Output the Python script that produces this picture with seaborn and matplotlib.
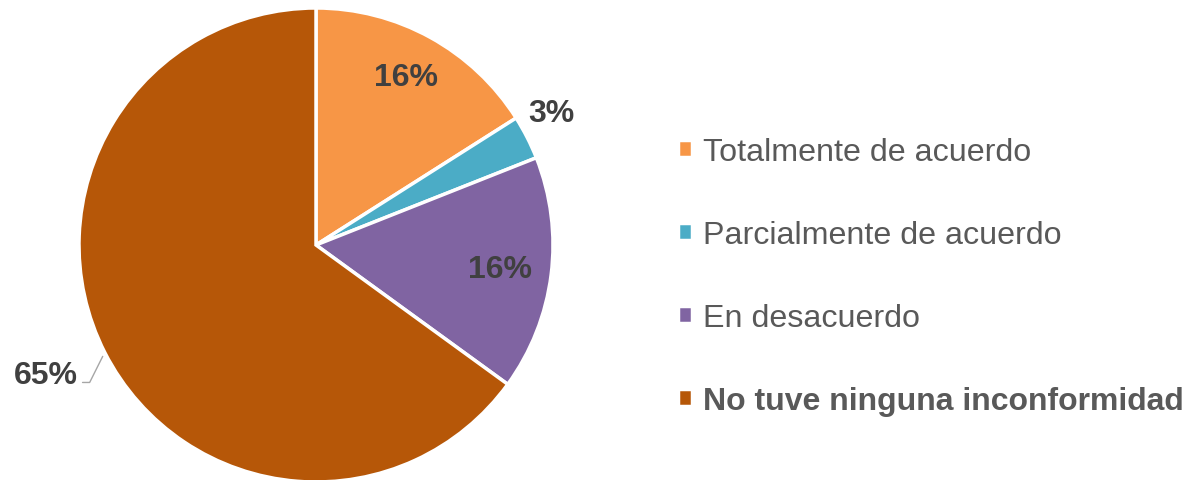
import matplotlib
matplotlib.use("Agg")
import matplotlib.pyplot as plt
import seaborn as sns

# data
categories = ["Totalmente de acuerdo", "Parcialmente de acuerdo",
              "En desacuerdo", "No tuve ninguna inconformidad"]
shares = [16, 3, 16, 65]
labels = ["16%", "3%", "16%", "65%"]
colors = ["#F79646", "#4BACC6", "#8064A2", "#B65708"]

sns.set_theme(style="white")
plt.rcParams['font.family'] = ['Liberation Sans', 'DejaVu Sans']

fig = plt.figure(figsize=(11.91, 4.81), dpi=100)
# pie centred at (316, 246) px with radius ~237 px
ax = fig.add_axes([79 / 1191, (481 - 246 - 237) / 481, 474 / 1191, 474 / 481])

palette = sns.color_palette(colors)
wedges, _ = ax.pie(shares, colors=palette, startangle=90, counterclock=False,
                   radius=1, wedgeprops=dict(edgecolor="white", linewidth=2.5))
ax.set_xlim(-1, 1)
ax.set_ylim(-1, 1)
ax.set_aspect("equal")
ax.axis("off")

# label positions in radius units
pos = [(0.38, 0.71), (0.995, 0.555), (0.775, -0.10), (-1.14, -0.55)]
for lab, (x, y) in zip(labels, pos):
    ax.text(x, y, lab, ha="center", va="center", fontsize=23, fontweight="bold",
            color="#404040", clip_on=False)

# leader line for 65%
ax.plot([-0.985, -0.955, -0.90], [-0.58, -0.58, -0.47], color="#A6A6A6",
        linewidth=1, clip_on=False)

leg = fig.legend(wedges, categories, loc="center left", bbox_to_anchor=(0.545, 0.423),
                 frameon=False, fontsize=23.2, handlelength=0.42, handleheight=0.42,
                 handletextpad=0.35, labelspacing=1.64, labelcolor="#595959")
last = leg.get_texts()[3]
last.set_fontweight("bold")
last.set_fontsize(23.0)

fig.savefig("out.png", dpi=100)
